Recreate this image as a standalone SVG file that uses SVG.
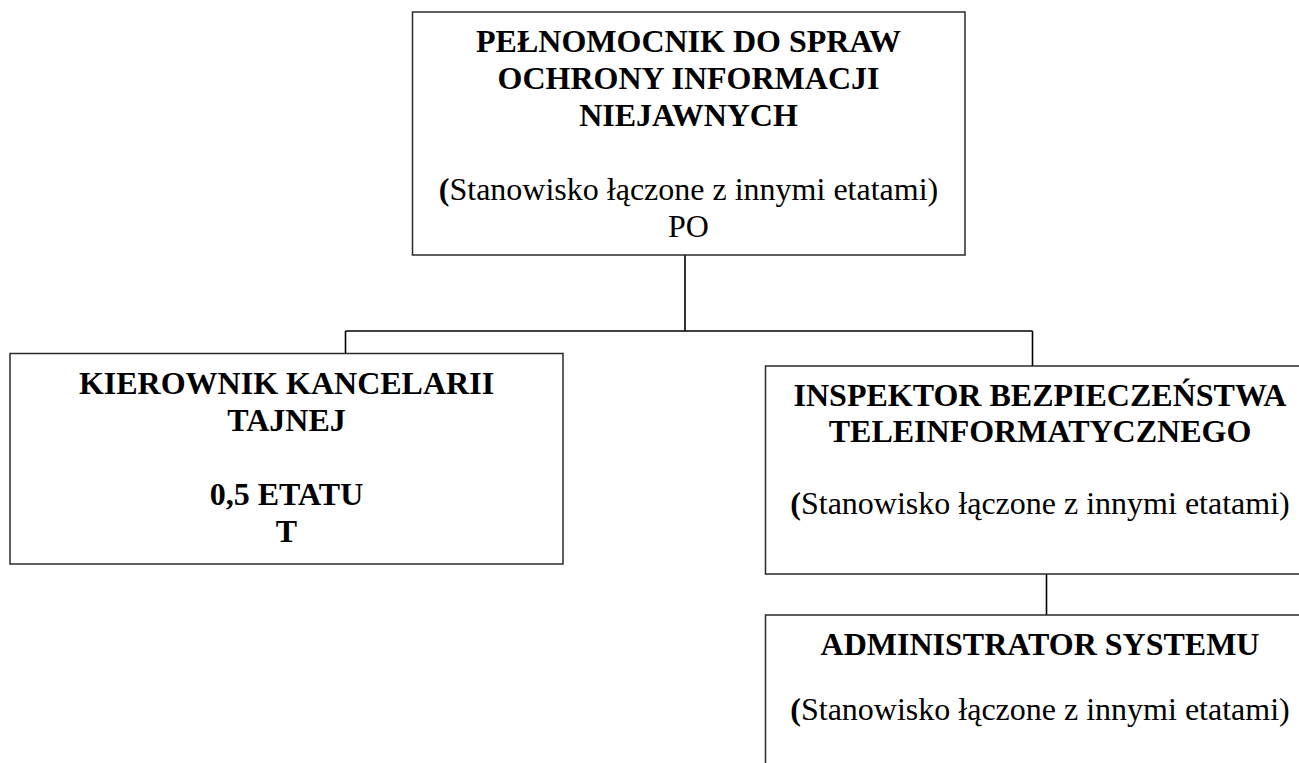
<svg xmlns="http://www.w3.org/2000/svg" width="1299" height="763" viewBox="0 0 1299 763">
<style>
.box{fill:#fff;stroke:#2a2a2a;stroke-width:1.5}
.t{font-family:"Liberation Serif","Times New Roman",serif;font-size:32px;fill:#000;text-anchor:middle}
.b{font-weight:bold}
.c{stroke:#000;stroke-width:1.6;fill:none}
</style>
<rect width="1299" height="763" fill="#fff"/>
<g id="connectors">
<line class="c" x1="685" y1="255" x2="685" y2="331"/>
<line class="c" x1="345.5" y1="331" x2="1032.5" y2="331"/>
<line class="c" x1="345.5" y1="331" x2="345.5" y2="353.5"/>
<line class="c" x1="1032.5" y1="331" x2="1032.5" y2="366"/>
<line class="c" x1="1046.5" y1="574" x2="1046.5" y2="615"/>
</g>
<g id="node-pelnomocnik">
<rect class="box" x="412.5" y="12" width="552.5" height="243"/>
<text class="t b" x="688.5" y="52">PEŁNOMOCNIK DO SPRAW</text>
<text class="t b" x="688.5" y="89">OCHRONY INFORMACJI</text>
<text class="t b" x="688.5" y="126">NIEJAWNYCH</text>
<text class="t" x="688.5" y="200"><tspan class="b">(</tspan>Stanowisko łączone z innymi etatami)</text>
<text class="t" x="688.5" y="237">PO</text>
</g>
<g id="node-kierownik">
<rect class="box" x="10" y="353.5" width="553" height="210.5"/>
<text class="t b" x="286.5" y="394">KIEROWNIK KANCELARII</text>
<text class="t b" x="286.5" y="431">TAJNEJ</text>
<text class="t b" x="286.5" y="505">0,5 ETATU</text>
<text class="t b" x="286.5" y="542">T</text>
</g>
<g id="node-inspektor">
<rect class="box" x="765.5" y="366" width="550" height="208"/>
<text class="t b" x="1040" y="406">INSPEKTOR BEZPIECZEŃSTWA</text>
<text class="t b" x="1040" y="442">TELEINFORMATYCZNEGO</text>
<text class="t" x="1040" y="514"><tspan class="b">(</tspan>Stanowisko łączone z innymi etatami)</text>
</g>
<g id="node-administrator">
<rect class="box" x="765.5" y="615" width="550" height="170"/>
<text class="t b" x="1040" y="655">ADMINISTRATOR SYSTEMU</text>
<text class="t" x="1040" y="720"><tspan class="b">(</tspan>Stanowisko łączone z innymi etatami)</text>
</g>
</svg>
